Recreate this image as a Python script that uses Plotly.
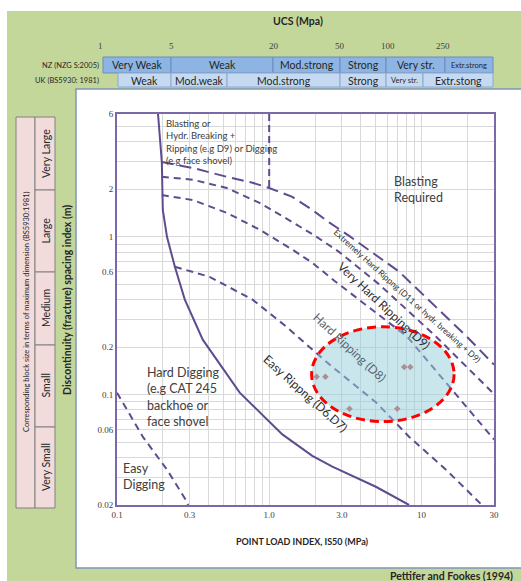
import plotly.graph_objects as go

# ---------------- data ----------------
# Hard digging / easy ripping boundary (solid)
solid_x = [0.186, 0.197, 0.200, 0.213, 0.240, 0.279, 0.366, 0.64, 1.22, 1.92, 2.6, 5.06, 8.3]
solid_y = [6.0, 2.98, 1.48, 1.0, 0.646, 0.40, 0.223, 0.103, 0.056, 0.041, 0.035, 0.026, 0.02]

# Vertical boundary of the "Blasting or Hydr. Breaking" box
vert_x = [1.0, 1.0]
vert_y = [6.0, 2.04]

# Extremely hard ripping / blasting boundary (long dash)
l1_x = [0.197, 0.315, 0.526, 0.778, 1.0, 1.42, 1.92, 2.49, 3.37, 7.16, 19.9, 30]
l1_y = [2.98, 2.73, 2.40, 2.20, 2.04, 1.79, 1.48, 1.23, 1.01, 0.60, 0.233, 0.155]

# Very hard / extremely hard ripping boundary
l2_x = [0.197, 0.315, 0.526, 0.865, 1.42, 2.05, 2.89, 5.28, 12.5, 30]
l2_y = [2.40, 2.30, 2.04, 1.64, 1.24, 1.0, 0.80, 0.50, 0.233, 0.101]

# Hard / very hard ripping boundary
l3_x = [0.197, 0.315, 0.526, 0.865, 1.42, 1.92, 2.68, 8.07, 30]
l3_y = [1.84, 1.71, 1.42, 1.11, 0.83, 0.685, 0.527, 0.233, 0.052]

# Easy / hard ripping boundary
l4_x = [0.240, 0.406, 0.778, 1.30, 1.92, 2.60, 5.06, 8.32, 14.5, 25.0]
l4_y = [0.646, 0.558, 0.40, 0.269, 0.193, 0.150, 0.089, 0.054, 0.0335, 0.02]

# Easy digging boundary
ed_x = [0.1, 0.148, 0.213, 0.288, 0.293]
ed_y = [0.103, 0.054, 0.0335, 0.021, 0.02]

# Site data points
pts_x = [2.05, 2.34, 3.37, 6.94, 7.71, 8.45]
pts_y = [0.130, 0.130, 0.0815, 0.0815, 0.150, 0.150]

# Ellipse bounds (Is50, spacing)
ell_x = [1.9, 16.4]
ell_y = [0.0675, 0.269]

# Axis ticks
x_grid = [0.1, 0.2, 0.3, 0.4, 0.5, 0.6, 0.7, 0.8, 0.9, 1, 2, 3, 4, 5, 6, 7, 8, 9, 10, 20, 30]
x_labels = {0.1: "0.1", 0.3: "0.3", 1: "1.0", 3: "3.0", 10: "10", 30: "30"}
y_grid = [0.02, 0.03, 0.04, 0.05, 0.06, 0.07, 0.08, 0.09, 0.1, 0.2, 0.3, 0.4, 0.5, 0.6,
          0.7, 0.8, 0.9, 1, 2, 3, 4, 5, 6]
y_labels = {0.02: "0.02", 0.06: "0.06", 0.1: "0.1", 0.2: "0.2", 0.6: "0.6", 1: "1", 2: "2", 6: "6"}

# Header tables
ucs_ticks = ["1", "5", "20", "50", "100", "250"]
nz_classes = ["Very Weak", "Weak", "Mod.strong", "Strong", "Very str.", "Extr.strong"]
uk_classes = ["Weak", "Mod.weak", "Mod.strong", "Strong", "Very str.", "Extr.stong"]
block_sizes = ["Very Large", "Large", "Medium", "Small", "Very Small"]

# ---------------- layout helpers (pixel -> paper) ----------------
W, H = 521, 581
L, R, T, B = 117, 494, 114, 505


def px(x):
    return (x - L) / (R - L)


def py(y):
    return (B - y) / (B - T)


PURPLE = "#5f4b8f"
FRAME = "#7b68a6"
GREEN = "#c4d79b"
TXT = "#262626"
FONT = "Lato"


def note(x, y, text, size, color=TXT, family=FONT, xa="center", ya="middle", angle=0, align="center"):
    return dict(x=px(x), y=py(y), xref="paper", yref="paper", text=text, showarrow=False,
                xanchor=xa, yanchor=ya, textangle=angle, align=align,
                font=dict(family=family, size=size, color=color))


fig = go.Figure()

line_style = dict(color=PURPLE, width=2)
fig.add_trace(go.Scatter(x=solid_x, y=solid_y, mode="lines", line=line_style, hoverinfo="skip"))
fig.add_trace(go.Scatter(x=vert_x, y=vert_y, mode="lines", line=dict(line_style, dash="7px,4px"), hoverinfo="skip"))
fig.add_trace(go.Scatter(x=l1_x, y=l1_y, mode="lines", line=dict(line_style, dash="12px,6px"), hoverinfo="skip"))
for xs, ys in [(l2_x, l2_y), (l3_x, l3_y), (l4_x, l4_y), (ed_x, ed_y)]:
    fig.add_trace(go.Scatter(x=xs, y=ys, mode="lines", line=dict(line_style, dash="7px,5px"), hoverinfo="skip"))
fig.add_trace(go.Scatter(x=pts_x, y=pts_y, mode="markers",
                         marker=dict(symbol="diamond", size=5, color="#c0504d"), hoverinfo="skip"))

shapes = []
annotations = []
# green background + white panel
shapes.append(dict(type="rect", xref="paper", yref="paper", x0=px(7), x1=px(530), y0=py(11), y1=py(590),
                   fillcolor=GREEN, line=dict(width=0), layer="below"))
shapes.append(dict(type="rect", xref="paper", yref="paper", x0=px(76), x1=px(530), y0=py(89), y1=py(568),
                   fillcolor="white", line=dict(color="#7f96b8", width=1.5), layer="below"))

# header rows
nz_b = [103, 171, 273, 340, 386, 445, 493]
uk_b = [118, 171, 227, 340, 386, 423, 493]
nz_sizes = [11, 11, 11, 11, 11, 8]
uk_sizes = [11, 11, 11, 11, 8, 11]
for i, name in enumerate(nz_classes):
    shapes.append(dict(type="rect", xref="paper", yref="paper", x0=px(nz_b[i]), x1=px(nz_b[i + 1]),
                       y0=py(73), y1=py(57), fillcolor="#8db4e2", line=dict(color="#6a8cc0", width=1), layer="below"))
    annotations.append(note((nz_b[i] + nz_b[i + 1]) / 2, 65.5, name, nz_sizes[i] - 0.5))
for i, name in enumerate(uk_classes):
    shapes.append(dict(type="rect", xref="paper", yref="paper", x0=px(uk_b[i]), x1=px(uk_b[i + 1]),
                       y0=py(87), y1=py(73), fillcolor="#c5d9f1", line=dict(color="#8aa8cf", width=1), layer="below"))
    annotations.append(note((uk_b[i] + uk_b[i + 1]) / 2, 80.5, name, uk_sizes[i] - 0.5))
ucs_pos = [100, 171, 274, 340, 388, 443]
for t, p in zip(ucs_ticks, ucs_pos):
    annotations.append(note(p, 46, t, 9, color="#404040", family="Liberation Serif"))
annotations.append(note(101, 65.5, "NZ (NZG S:2005)", 7.5, xa="right"))
annotations.append(note(101, 80.5, "UK (BS5930: 1981)", 7.5, xa="right"))
annotations.append(note(298, 21, "<b>UCS (Mpa)</b>", 10.5))

# left block-size table
shapes.append(dict(type="rect", xref="paper", yref="paper", x0=px(16), x1=px(35), y0=py(508), y1=py(117),
                   fillcolor="#f2dcdb", line=dict(color="#808080", width=1), layer="below"))
blk_b = [117, 190, 272, 345, 427, 508]
for i, name in enumerate(block_sizes):
    shapes.append(dict(type="rect", xref="paper", yref="paper", x0=px(35), x1=px(55), y0=py(blk_b[i + 1]),
                       y1=py(blk_b[i]), fillcolor="#f2dcdb", line=dict(color="#808080", width=1), layer="below"))
    annotations.append(note(45.5, (blk_b[i] + blk_b[i + 1]) / 2, name, 10.5, angle=-90))
annotations.append(note(26, 312, "Corresponding block size in terms of maximum dimension (BS5930:1981)",
                        7.5, angle=-90))
annotations.append(note(67, 300, "<b>Discontinuity (fracture) spacing index (m)</b>", 10.5, angle=-90))
annotations.append(note(302, 541, "<b>POINT LOAD INDEX, IS50 (MPa)</b>", 9))
annotations.append(note(515, 576, "<b>Pettifer and Fookes (1994)</b>", 10.5, xa="right"))

# in-plot labels
GR = "#404040"
annotations.append(note(164, 116, "Blasting or<br>Hydr. Breaking +<br>Ripping (e.g D9) or Digging<br>(e.g face shovel)",
                        9.5, color=GR, xa="left", ya="top", align="left"))
annotations.append(note(392, 189, "Blasting<br>Required", 12.5, color=GR, xa="left", align="left"))
annotations.append(note(145, 397, "Hard Digging<br>(e.g CAT 245<br>backhoe or<br>face shovel", 12.5,
                        color=GR, xa="left", align="left"))
annotations.append(note(121, 476, "Easy<br>Digging", 12.5, color=GR, xa="left", align="left"))
annotations.append(note(306, 393, "Easy Rippng (D6,D7)", 12, color="#303030", angle=42))
annotations.append(note(350, 347, "Hard Ripping (D8)", 12, color="#56656d", angle=43))
annotations.append(note(384, 305, "Very Hard Ripping (D9)", 12, color="#303030", angle=43))
annotations.append(note(407, 296, "Extremely Hard Rippng (D11 or hydr. breaking + D9)", 8.5,
                        color="#303030", angle=42))

# ellipse highlighting data points
shapes.append(dict(type="circle", xref="x", yref="y", x0=ell_x[0], x1=ell_x[1], y0=ell_y[0], y1=ell_y[1],
                   fillcolor="rgba(150,205,220,0.5)", line=dict(color="#ff0000", width=3, dash="9px,5px"),
                   layer="above"))

fig.update_layout(
    width=W, height=H,
    margin=dict(l=L, r=W - R, t=T, b=H - B, autoexpand=False),
    paper_bgcolor="white", plot_bgcolor="rgba(0,0,0,0)",
    showlegend=False,
    shapes=shapes, annotations=annotations,
    xaxis=dict(type="log", range=[-1, 1.4771], tickvals=x_grid, automargin=False,
               ticktext=[x_labels.get(v, "") for v in x_grid],
               showgrid=True, gridcolor="#d9d9d9", gridwidth=1, zeroline=False,
               showline=True, mirror=True, linecolor=FRAME, linewidth=2, ticks="",
               tickfont=dict(family="Liberation Serif", size=9, color="#404040")),
    yaxis=dict(type="log", range=[-1.69897, 0.77815], tickvals=y_grid, automargin=False,
               ticktext=[y_labels.get(v, "") for v in y_grid],
               showgrid=True, gridcolor="#d9d9d9", gridwidth=1, zeroline=False,
               showline=True, mirror=True, linecolor=FRAME, linewidth=2, ticks="",
               tickfont=dict(family="Liberation Serif", size=9, color="#404040")),
)

fig.write_html("out.html", config={"displayModeBar": False},
               post_script="document.body.style.margin='0';")
